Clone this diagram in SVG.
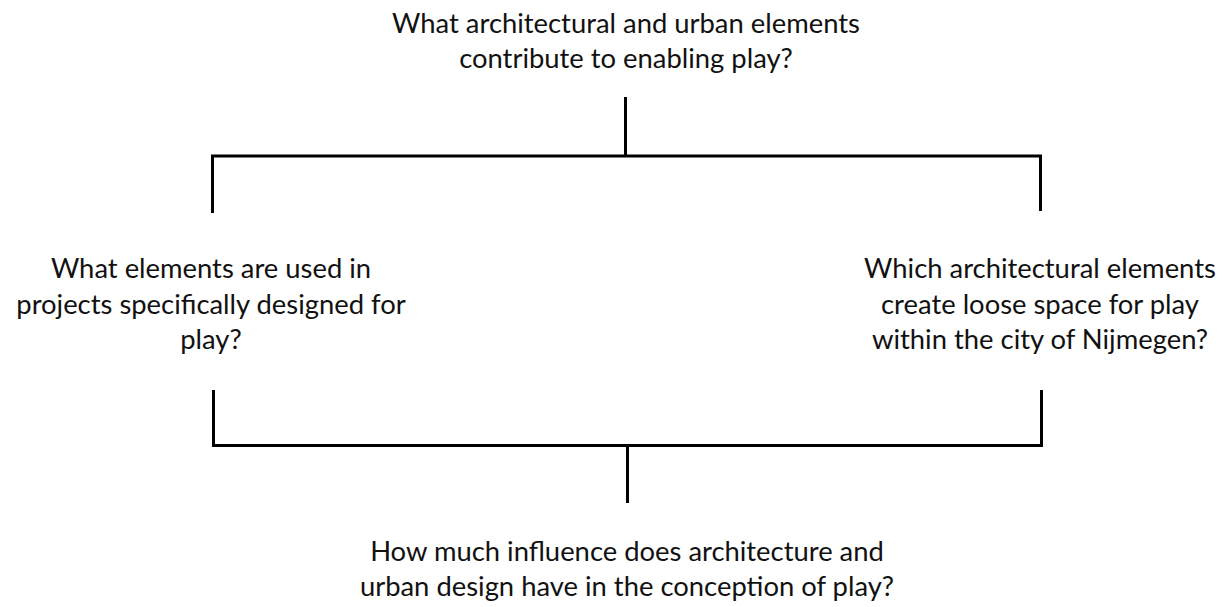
<svg xmlns="http://www.w3.org/2000/svg" width="1223" height="607" viewBox="0 0 1223 607">
<style>
text{font-family:Lato,"Open Sans",sans-serif;font-size:27.4px;fill:#111;text-anchor:middle}
.c{stroke:#000;stroke-width:3;fill:none}
</style>
<rect width="1223" height="607" fill="#fff"/>
<g id="top"><text x="626" y="33">What architectural and urban elements</text><text x="626" y="68">contribute to enabling play?</text></g>
<g id="left"><text x="211" y="278">What elements are used in</text><text x="211" y="314">projects specifically designed for</text><text x="211" y="349">play?</text></g>
<g id="right"><text x="1040" y="278">Which architectural elements</text><text x="1040" y="314">create loose space for play</text><text x="1040" y="349">within the city of Nijmegen?</text></g>
<g id="bottom"><text x="627" y="561">How much influence does architecture and</text><text x="627" y="596">urban design have in the conception of play?</text></g>
<g id="connectors">
<path class="c" d="M625.5 97V156M212.5 213V156H1040.5V211"/>
<path class="c" d="M213.5 390V445.5H1041.5V390M627.5 446V503"/>
</g>
</svg>
